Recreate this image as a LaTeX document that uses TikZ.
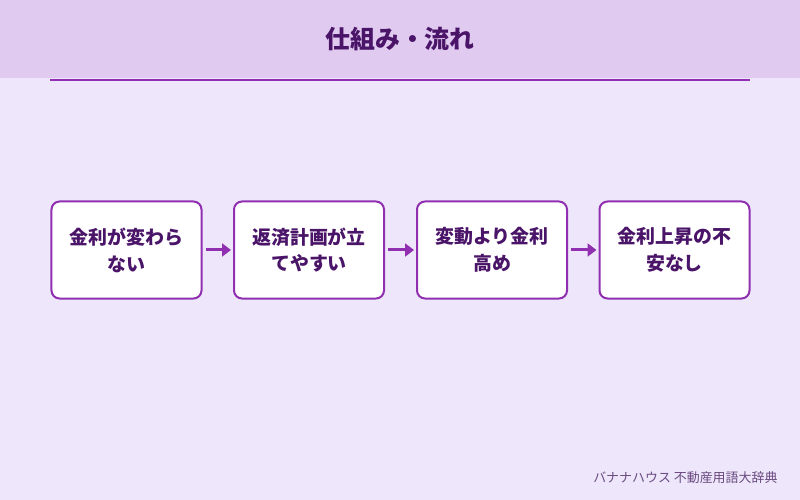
\documentclass[tikz,border=0pt]{standalone}
\usepackage{fontspec}
\setmainfont{Noto Sans CJK JP}
\usetikzlibrary{arrows.meta}
\definecolor{bg}{HTML}{EEE7FB}
\definecolor{hdr}{HTML}{E0CAF0}
\definecolor{pur}{HTML}{9030B0}
\definecolor{txt}{HTML}{4A1468}
\definecolor{foot}{HTML}{6A4A80}
\begin{document}
\begin{tikzpicture}[x=1bp,y=-1bp,
  box/.style={draw=pur,line width=2bp,fill=white,rounded corners=8bp,minimum width=150bp,minimum height=97bp,align=center,text=txt,font=\bfseries\fontsize{19}{27}\selectfont},
  arr/.style={draw=pur,line width=3bp,shorten <=3bp,shorten >=2bp,-{Triangle[length=9bp,width=13bp]}}]
\useasboundingbox (0,0) rectangle (800,500);
\fill[bg] (0,0) rectangle (800,500);
\fill[hdr] (0,0) rectangle (800,78);
\draw[pur,line width=1.5bp] (50,80) -- (750,80);
\node[text=txt,font=\bfseries\fontsize{25}{30}\selectfont] (title) at (400,39) {仕組み・流れ};
\node[box] (b1) at (126.5,250) {金利が変わら\\ない};
\node[box] (b2) at (309,250) {返済計画が立\\てやすい};
\node[box] (b3) at (492,250) {変動より金利\\高め};
\node[box] (b4) at (674.5,250) {金利上昇の不\\安なし};
\draw[arr] (b1) -- (b2);
\draw[arr] (b2) -- (b3);
\draw[arr] (b3) -- (b4);
\node[anchor=east,text=foot,font=\fontsize{13}{15}\selectfont] (ft) at (781,478) {バナナハウス 不動産用語大辞典};
\end{tikzpicture}
\end{document}
